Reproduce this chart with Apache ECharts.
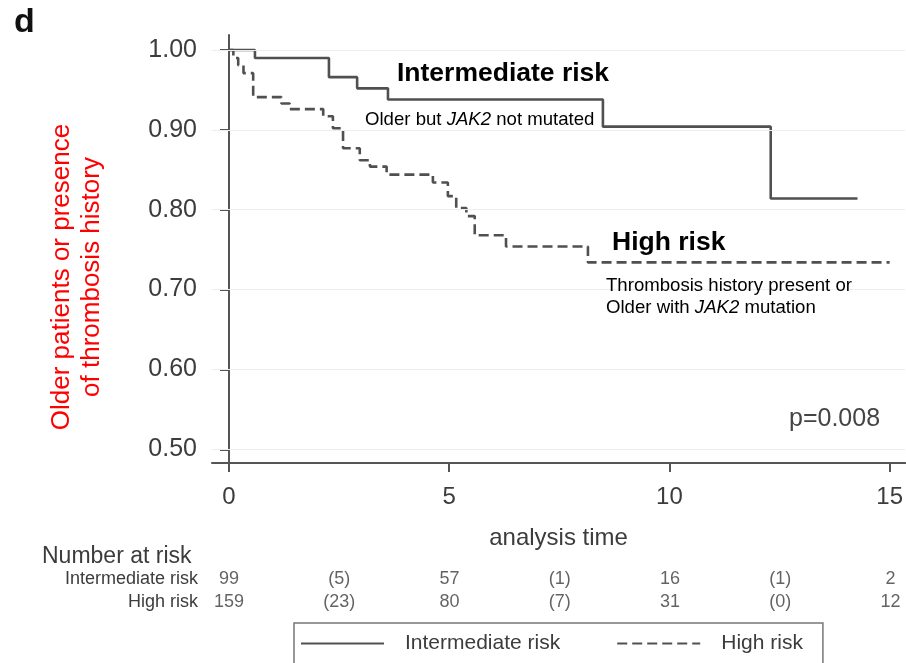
<!DOCTYPE html>
<html>
<head>
<meta charset="utf-8">
<script src="https://cdn.jsdelivr.net/npm/echarts@6.0.0/dist/echarts.min.js"></script>
<style>
  html, body { margin: 0; padding: 0; background: #fff; }
  #chart { width: 906px; height: 663px; }
</style>
</head>
<body>
<div id="chart"></div>
<script>
// Kaplan–Meier steps: time of each step and the survival estimate after it
const intermediateTimes = [0, 0.59, 2.27, 2.91, 3.61, 8.49, 12.30, 14.27];
const intermediateSurv  = [1.000, 0.990, 0.966, 0.952, 0.938, 0.904, 0.814, 0.814];

const highTimes = [0, 0.10, 0.21, 0.33, 0.55, 1.19, 1.38, 2.14, 2.36, 2.59, 2.97, 3.20, 3.58,
                   4.63, 4.97, 5.16, 5.39, 5.58, 6.29, 8.15, 15.00];
const highSurv  = [1.000, 0.990, 0.981, 0.971, 0.941, 0.933, 0.926, 0.917, 0.902, 0.877, 0.862, 0.854, 0.844,
                   0.834, 0.817, 0.802, 0.792, 0.768, 0.754, 0.734, 0.734];

const seriesNames = ['Intermediate risk', 'High risk'];

// Axis ticks
const xTicks = [0, 5, 10, 15];
const yTicks = [0.50, 0.60, 0.70, 0.80, 0.90, 1.00];

// Number-at-risk table (censored counts in brackets)
const riskTimes = [0, 2.5, 5, 7.5, 10, 12.5, 15];
const riskRows = ['Intermediate risk', 'High risk'];
const intermediateAtRisk = ['99', '(5)', '57', '(1)', '16', '(1)', '2'];
const highAtRisk = ['159', '(23)', '80', '(7)', '31', '(0)', '12'];

const FONT = '"Liberation Sans", Arial, Helvetica, sans-serif';
const LINE_COLOR = '#505050';
const TEXT_GRAY = '#3c3c3c';
const NOTE_SIZE = 18.6;

const X_MIN = -0.385, X_MAX = 15.352;
const Y_MIN = 0.4828, Y_MAX = 1.0188;

function pairs(xs, ys) { return xs.map((x, i) => [x, ys[i]]); }

function tableSeries(name, rowIdx, labels) {
  return {
    name: name,
    type: 'scatter',
    xAxisIndex: 1,
    yAxisIndex: 1,
    symbolSize: 1,
    itemStyle: { color: 'rgba(0,0,0,0)' },
    silent: true,
    data: riskTimes.map((t, i) => ({
      value: [t, rowIdx],
      label: { formatter: labels[i] }
    })),
    label: {
      show: true,
      position: 'inside',
      fontFamily: FONT,
      fontSize: 18,
      color: TEXT_GRAY
    }
  };
}

function txt(x, y, style) {
  return { type: 'text', x: x, y: y, z: 20, style: style };
}

const italic = { i: { fontFamily: FONT, fontSize: NOTE_SIZE, fontStyle: 'italic', fill: '#000' } };

const chart = echarts.init(document.getElementById('chart'), null, { renderer: 'canvas' });

chart.setOption({
  animation: false,
  backgroundColor: '#fff',
  grid: [
    { left: 212, right: 0, top: 35, height: 428 },
    { left: 212, right: 0, top: 568, height: 46 }
  ],
  xAxis: [
    {
      type: 'value', gridIndex: 0, min: X_MIN, max: X_MAX,
      name: 'analysis time', nameLocation: 'middle', nameGap: 63,
      nameTextStyle: { fontFamily: FONT, fontSize: 24, color: TEXT_GRAY },
      axisLine: { show: true, lineStyle: { color: '#555', width: 2 } },
      axisTick: { show: true, customValues: xTicks, length: 9, lineStyle: { color: '#555', width: 2 } },
      axisLabel: { customValues: xTicks, fontFamily: FONT, fontSize: 24, color: TEXT_GRAY, margin: 22 },
      splitLine: { show: false }
    },
    { type: 'value', gridIndex: 1, min: X_MIN, max: X_MAX, show: false }
  ],
  yAxis: [
    {
      type: 'value', gridIndex: 0, min: Y_MIN, max: Y_MAX,
      axisLine: { show: true, lineStyle: { color: '#555', width: 2 } },
      axisTick: { show: true, customValues: yTicks, length: 9, lineStyle: { color: '#555', width: 2 } },
      axisLabel: {
        customValues: yTicks, fontFamily: FONT, fontSize: 25, color: TEXT_GRAY, margin: 15,
        formatter: v => v.toFixed(2)
      },
      splitLine: { show: false }
    },
    {
      type: 'category', gridIndex: 1, data: riskRows, inverse: true,
      axisLine: { show: false }, axisTick: { show: false },
      axisLabel: { interval: 0, hideOverlap: false, fontFamily: FONT, fontSize: 18, color: TEXT_GRAY, margin: 14 }
    }
  ],
  legend: {
    data: seriesNames,
    left: 294, top: 623,
    padding: [10, 20, 22, 6],
    borderColor: '#777', borderWidth: 1.5, borderRadius: 0,
    itemWidth: 83, itemHeight: 14, itemGap: 56,
    itemStyle: { opacity: 0 },
    textStyle: { fontFamily: FONT, fontSize: 21, color: TEXT_GRAY, padding: [0, 0, 0, 16] }
  },
  series: [
    {
      // faint horizontal reference lines at the y ticks
      name: 'gridlines', type: 'line', data: [], z: 1, silent: true,
      markLine: {
        silent: true, symbol: 'none', label: { show: false },
        lineStyle: { color: '#ededed', width: 1, type: 'solid' },
        data: yTicks.map(v => ({ yAxis: v }))
      }
    },
    {
      name: seriesNames[0], type: 'line', step: 'end', z: 3,
      data: pairs(intermediateTimes, intermediateSurv),
      showSymbol: false, symbol: 'none', symbolSize: 0,
      itemStyle: { color: LINE_COLOR },
      lineStyle: { color: LINE_COLOR, width: 2.6, type: 'solid' }
    },
    {
      name: seriesNames[1], type: 'line', step: 'end', z: 3,
      data: pairs(highTimes, highSurv),
      showSymbol: false, symbol: 'none', symbolSize: 0,
      itemStyle: { color: LINE_COLOR },
      lineStyle: { color: LINE_COLOR, width: 2.6, type: [10, 5] }
    },
    tableSeries('atRiskIntermediate', 0, intermediateAtRisk),
    tableSeries('atRiskHigh', 1, highAtRisk)
  ],
  graphic: [
    { type: 'text', left: 14, top: 6, z: 20,
      style: { text: 'd', font: 'bold 34px ' + FONT, fill: '#111' } },
    { type: 'text', x: 77, y: 277, rotation: Math.PI / 2, z: 20,
      style: { text: 'Older patients or presence\nof thrombosis history',
               font: '26px ' + FONT, fill: '#ff0000',
               textAlign: 'center', textVerticalAlign: 'middle', lineHeight: 30 } },
    txt(397, 74, { text: 'Intermediate risk', font: 'bold 26.5px ' + FONT, fill: '#000',
                   textVerticalAlign: 'middle' }),
    txt(365, 120, { text: 'Older but {i|JAK2} not mutated', fontFamily: FONT, fontSize: NOTE_SIZE, fill: '#000',
                    textVerticalAlign: 'middle', rich: italic }),
    txt(612, 243, { text: 'High risk', font: 'bold 26.5px ' + FONT, fill: '#000',
                    textVerticalAlign: 'middle' }),
    txt(606, 286, { text: 'Thrombosis history present or', fontFamily: FONT, fontSize: NOTE_SIZE, fill: '#000',
                    textVerticalAlign: 'middle' }),
    txt(606, 308, { text: 'Older with {i|JAK2} mutation', fontFamily: FONT, fontSize: NOTE_SIZE, fill: '#000',
                    textVerticalAlign: 'middle', rich: italic }),
    txt(789, 419, { text: 'p=0.008', font: '25px ' + FONT, fill: '#444', textVerticalAlign: 'middle' }),
    txt(42, 557, { text: 'Number at risk', font: '23px ' + FONT, fill: TEXT_GRAY, textVerticalAlign: 'middle' })
  ]
});
</script>
</body>
</html>
